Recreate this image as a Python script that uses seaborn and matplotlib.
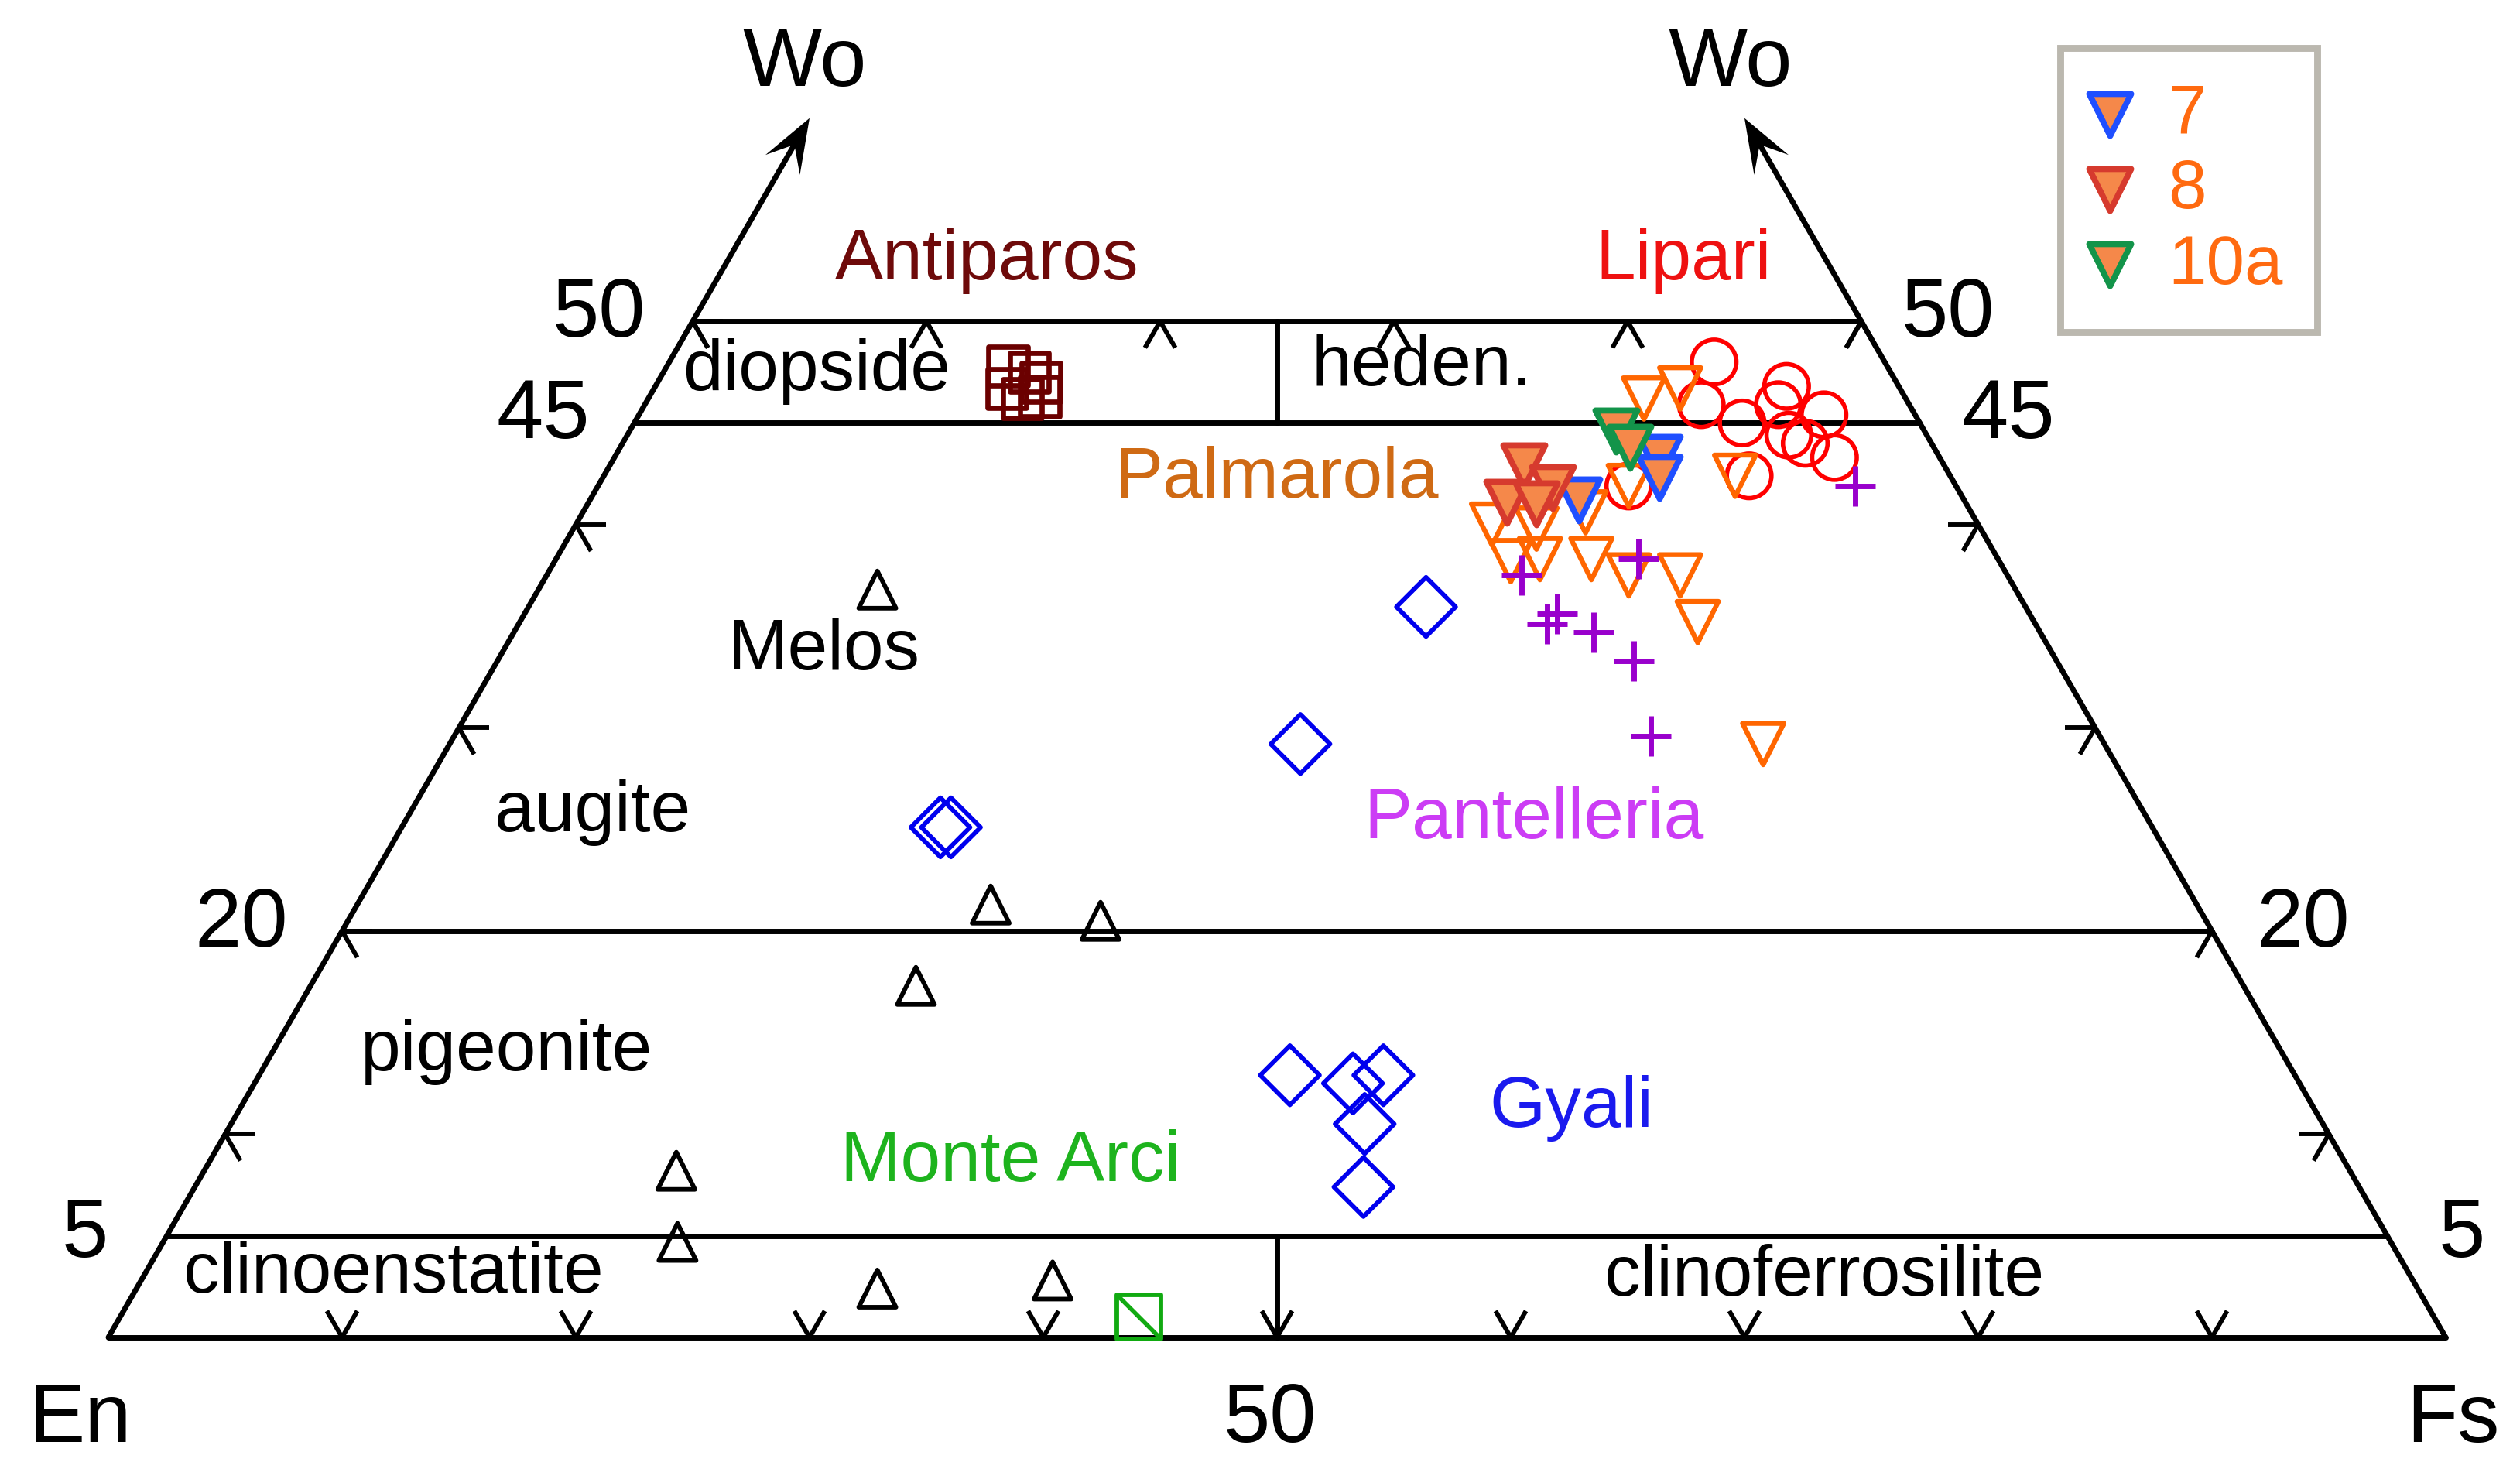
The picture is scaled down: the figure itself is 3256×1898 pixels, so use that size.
#!/usr/bin/env python3
"""Pyroxene quadrilateral (Wo-En-Fs) with obsidian source groups."""
import matplotlib

matplotlib.use("Agg")
import matplotlib.pyplot as plt
import numpy as np
import pandas as pd
import seaborn as sns

# compositions in mol%: Wo and Fs given, En = 100 - Wo - Fs
LIPARI_WO = [48.0, 45.9, 45.0, 46.8, 45.9, 45.4, 44.4, 44.0, 43.3, 42.4, 41.9]
LIPARI_FS = [44.7, 45.2, 47.4, 48.4, 48.5, 50.7, 49.7, 50.6, 52.2, 49.0, 44.1]

ANTIPAROS_WO = [47.8, 47.5, 47.0, 46.7, 46.2, 46.3]
ANTIPAROS_FS = [14.6, 15.65, 16.4, 15.1, 16.0, 16.7]

PALMAROLA_WO = [40.0, 38.2, 38.3, 39.8, 38.3, 37.5, 37.5, 35.2, 40.6, 41.9, 42.4, 46.2, 46.7, 29.2]
PALMAROLA_FS = [39.2, 40.9, 42.1, 41.2, 44.3, 46.3, 48.5, 50.4, 42.9, 44.1, 48.4, 42.6, 43.9, 56.2]

SAMPLE7_WO = [41.2, 43.3, 42.3]
SAMPLE7_FS = [42.3, 44.7, 45.2]
SAMPLE8_WO = [42.9, 41.8, 41.1, 41.0]
SAMPLE8_FS = [39.1, 40.9, 39.3, 40.6]
SAMPLE10A_WO = [44.6, 43.8]
SAMPLE10A_FS = [42.2, 43.2]

PANTELLERIA_WO = [37.5, 35.1, 35.6, 34.7, 33.3, 38.3, 29.6, 41.9]
PANTELLERIA_FS = [41.7, 44.0, 44.2, 46.2, 48.6, 46.3, 51.2, 53.8]

GYALI_WO = [35.95, 29.2, 25.1, 25.1, 12.9, 12.5, 12.9, 10.5, 7.4]
GYALI_FS = [38.4, 36.4, 23.05, 23.5, 44.1, 47.0, 48.1, 48.5, 50.0]

MELOS_WO = [36.8, 21.3, 20.5, 17.3, 8.2, 4.7, 2.4, 2.8]
MELOS_FS = [14.5, 27.1, 32.2, 25.9, 20.2, 22.0, 31.7, 39.0]

MONTE_ARCI_WO = [1.0]
MONTE_ARCI_FS = [43.6]

FIELD_WO = [45, 20, 5]
TICK_STEPS = [10, 20, 30, 40, 50]
LEGEND_LABELS = ["7", "8", "10a"]

LW = 2.5
R3 = np.sqrt(3) / 2


def to_xy(wo, fs):
    wo = np.asarray(wo, dtype=float)
    fs = np.asarray(fs, dtype=float)
    return fs + wo / 2, wo * R3


def frame(wo, fs):
    x, y = to_xy(wo, fs)
    return pd.DataFrame({"x": x, "y": y})


def seg(ax, p, q):
    x0, y0 = to_xy(*p)
    x1, y1 = to_xy(*q)
    ax.plot([x0, x1], [y0, y1], color="k", lw=LW, solid_capstyle="round", zorder=1)


def tick(ax, wo, fs, angles, length=1.3):
    x, y = to_xy(wo, fs)
    for a in angles:
        r = np.deg2rad(a)
        ax.plot([x, x + length * np.cos(r)], [y, y + length * np.sin(r)],
                color="k", lw=LW * 0.85, solid_capstyle="butt", zorder=1)


def arrow(ax, start, end, head=2.3, half=0.85, notch=1.3):
    xs, ys = to_xy(*start)
    xe, ye = to_xy(*end)
    d = np.array([xe - xs, ye - ys])
    d /= np.hypot(*d)
    n = np.array([-d[1], d[0]])
    tip = np.array([xe, ye])
    back = tip - head * d
    nk = tip - notch * d
    ax.plot([xs, nk[0]], [ys, nk[1]], color="k", lw=LW, zorder=1)
    poly = np.array([tip, back + half * n, nk, back - half * n])
    ax.fill(poly[:, 0], poly[:, 1], color="k", lw=0, zorder=2)


sns.set_style("white")
plt.rcParams["font.family"] = ["Liberation Sans", "DejaVu Sans"]

fig = plt.figure(figsize=(16.28, 9.495), dpi=200)
ax = fig.add_axes([0, 0, 1, 1])
ax.set_xlim(-4.636, 103.18)
ax.set_ylim(-5.61, 57.03)
ax.axis("off")

# outline and field boundaries
seg(ax, (0, 0), (0, 100))
seg(ax, (0, 0), (50, 0))
seg(ax, (0, 100), (50, 50))
seg(ax, (50, 0), (50, 50))
for w in FIELD_WO:
    seg(ax, (w, 0), (w, 100 - w))
seg(ax, (45, 27.5), (50, 25))
seg(ax, (0, 50), (5, 47.5))

# arrows toward the Wo apex
arrow(ax, (50, 0), (60, 0))
arrow(ax, (50, 50), (60, 40))

# tick carets
for f in range(10, 100, 10):
    tick(ax, 0, f, [60, 120])
for w in TICK_STEPS:
    tick(ax, w, 0, [0, -60])
    tick(ax, w, 100 - w, [180, 240])
for f in range(0, 60, 10):
    tick(ax, 50, f, [-60, -120])

# data groups
open_groups = [
    (MELOS_WO, MELOS_FS, "^", "black", 300, 2.1),
    (GYALI_WO, GYALI_FS, "D", "#0000ee", 380, 2.1),
    (MONTE_ARCI_WO, MONTE_ARCI_FS, "s", "#11aa11", 420, 2.1),
    (ANTIPAROS_WO, ANTIPAROS_FS, "s", "#6b0000", 330, 2.4),
    (LIPARI_WO, LIPARI_FS, "o", "#ff0000", 430, 2.0),
    (PALMAROLA_WO, PALMAROLA_FS, "v", "#ff6600", 370, 2.3),
]
for wo, fs, mk, col, size, lw in open_groups:
    sns.scatterplot(data=frame(wo, fs), x="x", y="y", marker=mk, s=size,
                    color=col, facecolor="none", edgecolor=col, linewidth=lw,
                    ax=ax, zorder=3, legend=False)

# diagonal slash inside the Monte Arci square
sns.scatterplot(data=frame(MONTE_ARCI_WO, MONTE_ARCI_FS), x="x", y="y",
                marker=[(-1, 1), (1, -1)], s=420, color="#11aa11",
                facecolor="none", edgecolor="#11aa11", linewidth=2.0,
                ax=ax, zorder=3, legend=False)

sns.scatterplot(data=frame(PANTELLERIA_WO, PANTELLERIA_FS), x="x", y="y",
                marker="+", s=340, color="#9900cc", linewidth=2.5,
                ax=ax, zorder=4, legend=False)

handles = []
filled = [
    (SAMPLE7_WO, SAMPLE7_FS, "#1f4fff"),
    (SAMPLE8_WO, SAMPLE8_FS, "#d63a2e"),
    (SAMPLE10A_WO, SAMPLE10A_FS, "#13944a"),
]
for (wo, fs, edge), lab in zip(filled, LEGEND_LABELS):
    sns.scatterplot(data=frame(wo, fs), x="x", y="y", marker="v", s=380,
                    color="#f5884a", edgecolor=edge, linewidth=2.8,
                    ax=ax, zorder=5, legend=False, label=lab)
    handles.append(ax.collections[-1])

# field and group labels
REGION_FS = 33.5
labels = [
    ("Antiparos", 37.6, 45.9, "#6e0a0a"),
    ("Lipari", 67.4, 45.9, "#ee1111"),
    ("diopside", 30.3, 41.2, "black"),
    ("heden.", 56.2, 41.4, "black"),
    ("Palmarola", 50.0, 36.6, "#cf6a14"),
    ("Melos", 30.6, 29.3, "black"),
    ("augite", 20.7, 22.4, "black"),
    ("Pantelleria", 61.0, 22.1, "#cc3cf5"),
    ("pigeonite", 17.0, 12.2, "black"),
    ("Gyali", 62.6, 9.8, "#1a1aee"),
    ("Monte Arci", 38.6, 7.5, "#1db31d"),
    ("clinoenstatite", 12.2, 2.75, "black"),
    ("clinoferrosilite", 73.4, 2.6, "black"),
]
for txt, x, y, col in labels:
    ax.text(x, y, txt, color=col, fontsize=REGION_FS, ha="center", va="center")

BIG_FS = 39
axis_labels = [
    ("Wo", 29.8, 54.3), ("Wo", 69.4, 54.3),
    ("50", 21.0, 43.6), ("50", 78.7, 43.6),
    ("45", 18.6, 39.3), ("45", 81.3, 39.3),
    ("20", 5.7, 17.6), ("20", 93.9, 17.6),
    ("5", -1.0, 4.4), ("5", 100.7, 4.4),
    ("En", -1.2, -3.5), ("50", 49.7, -3.5), ("Fs", 100.3, -3.5),
]
for txt, x, y in axis_labels:
    ax.text(x, y, txt, fontsize=BIG_FS, ha="center", va="center", color="black")

leg = ax.legend(handles=handles, labels=LEGEND_LABELS, loc="upper left",
                bbox_to_anchor=(0.8175, 0.967), bbox_transform=fig.transFigure,
                borderaxespad=0, fontsize=32, frameon=True, fancybox=False,
                handlelength=0.45, handletextpad=0.62, labelspacing=0.15,
                borderpad=0.5)
leg.get_frame().set_edgecolor("#aaa69b")
leg.get_frame().set_linewidth(3.2)
for t in leg.get_texts():
    t.set_color("#ff6a10")

fig.savefig("out.png", dpi=200)
